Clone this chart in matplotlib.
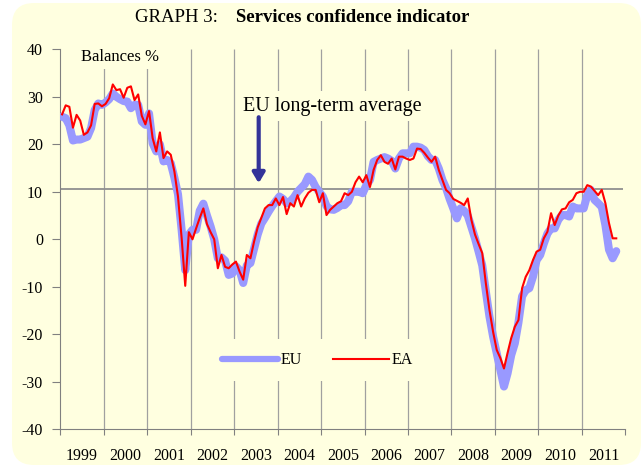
import numpy as np
import matplotlib
matplotlib.use("Agg")
import matplotlib.pyplot as plt
from matplotlib.patches import FancyBboxPatch
from matplotlib.lines import Line2D

plt.rcParams['font.family'] = ['Liberation Serif', 'DejaVu Serif']
plt.rcParams['axes.unicode_minus'] = False

# monthly balances, Jan 1999 - Oct 2011
eu = [25.8, 25.5, 24.0, 20.8, 21.0, 21.0, 21.3, 21.6, 23.4, 27.2, 28.6, 28.3,
      28.8, 29.5, 30.7, 30.0, 29.5, 29.1, 29.0, 27.6, 28.3, 28.3, 24.8, 24.1,
      26.5, 20.2, 18.5, 20.0, 16.4, 16.7, 16.0, 13.0, 9.5, 2.0, -6.5, 1.0,
      2.0, 2.0, 6.0, 7.5, 5.0, 2.7, 0.0, -4.0, -3.8, -4.5, -7.5, -7.2,
      -5.7, -6.5, -9.2, -5.5, -5.0, -2.0, 1.0, 3.3, 4.5, 5.8, 7.0, 8.0,
      9.0, 8.5, 7.6, 8.0, 8.8, 10.0, 10.8, 11.6, 13.2, 12.5, 11.0, 10.0,
      9.0, 7.0, 6.3, 6.2, 6.6, 7.2, 7.2, 8.0, 10.0, 10.0, 10.0, 9.7,
      11.4, 12.5, 16.3, 16.7, 17.0, 17.3, 17.0, 16.5, 14.9, 17.0, 18.1, 18.1,
      18.1, 19.5, 19.5, 19.3, 18.8, 17.5, 16.7, 16.7, 14.9, 12.5, 10.8, 8.5,
      6.5, 4.4, 6.5, 6.0, 5.0, 2.6, 0.2, -2.6, -5.5, -11.0, -16.3, -20.5,
      -24.0, -27.5, -31.0, -28.2, -24.4, -21.9, -17.5, -12.0, -10.7, -10.3, -7.9, -4.4,
      -3.3, -0.9, 1.2, 2.3, 2.3, 4.1, 5.1, 5.1, 4.8, 6.9, 6.5, 6.5,
      6.5, 9.3, 10.4, 8.3, 7.6, 6.8, 3.0, -2.2, -4.0, -2.5]

ea = [26.3, 28.2, 27.9, 23.5, 26.2, 25.0, 22.0, 22.5, 24.0, 28.5, 28.6, 28.0,
      28.5, 29.7, 32.6, 31.4, 31.6, 29.8, 31.9, 32.2, 29.3, 30.5, 26.0, 24.2,
      27.0, 21.3, 18.5, 22.5, 17.1, 18.5, 17.8, 14.3, 9.0, 0.3, -9.8, 1.5,
      0.0, 2.3, 4.5, 6.5, 3.2, 1.5, 0.0, -6.1, -3.3, -5.8, -6.1, -5.3,
      -4.7, -6.8, -8.5, -3.3, -4.0, -0.5, 2.5, 4.5, 6.5, 7.2, 7.2, 8.6,
      7.2, 8.9, 5.3, 7.6, 6.9, 9.3, 6.9, 8.6, 9.8, 10.4, 10.4, 7.8,
      9.7, 5.1, 6.2, 6.9, 7.6, 8.0, 9.7, 9.3, 10.0, 12.0, 13.2, 12.0,
      13.5, 11.0, 14.6, 16.7, 17.7, 16.3, 15.9, 17.0, 14.7, 17.4, 17.4, 17.0,
      16.7, 17.0, 19.1, 19.0, 18.2, 17.2, 16.3, 17.4, 14.6, 12.5, 10.4, 9.7,
      8.5, 8.1, 7.7, 7.2, 8.6, 4.1, 1.0, -1.0, -2.9, -9.3, -14.9, -19.5,
      -23.3, -25.0, -27.2, -23.9, -20.8, -18.4, -17.0, -10.3, -7.9, -6.5, -4.4, -2.6,
      -2.2, 0.2, 1.6, 5.5, 3.0, 5.0, 6.3, 6.5, 7.8, 8.3, 9.7, 10.0,
      10.0, 11.4, 11.1, 10.2, 9.3, 10.4, 7.6, 3.4, 0.2, 0.2]

years = list(range(1999, 2012))
long_term_avg = 10.6

bg = '#FFFFE0'
fig = plt.figure(figsize=(6.42, 4.66), dpi=100)
fig.patch.set_facecolor('white')
fig.add_artist(FancyBboxPatch((0.12, 0.01), 6.29, 4.62,
                              boxstyle='round,pad=0,rounding_size=0.22',
                              transform=fig.dpi_scale_trans,
                              facecolor=bg, edgecolor='none', zorder=0))

ax = fig.add_axes([0.0939, 0.0788, 0.8801, 0.8154])
ax.set_facecolor('none')

t = 1999 + (np.arange(len(ea)) + 0.5) / 12

ax.vlines(years[1:], -40, 40, color='#A0A0A0', lw=0.9, zorder=1)
ax.hlines(long_term_avg, 1999, 2011.95, color='#909090', lw=1.3, zorder=2)

ax.plot(t, eu, color='#9999FF', lw=5.8, solid_joinstyle='round',
        solid_capstyle='round', zorder=3)
ax.plot(t, ea, color='red', lw=1.5, zorder=4)

ax.set_xlim(1999, 2012)
ax.set_ylim(-40, 40)
ax.set_yticks(range(-40, 41, 10))
ax.set_xticks(range(1999, 2013))
ax.set_xticklabels([])
ax.set_xticks([y + 0.5 for y in years], minor=True)
ax.set_xticklabels([str(y) for y in years], minor=True)
ax.tick_params(axis='x', which='major', length=4, color='#808080')
ax.tick_params(axis='x', which='minor', length=0, pad=13.5, labelsize=11.5)
ax.tick_params(axis='y', length=6, color='#808080', pad=6.5, labelsize=11.5)
for s in ['top', 'right']:
    ax.spines[s].set_visible(False)
for s in ['left', 'bottom']:
    ax.spines[s].set_color('#808080')

ax.text(1999.48, 38.4, 'Balances %', fontsize=12, va='center', ha='left',
        bbox=dict(facecolor=bg, edgecolor='none', pad=3), zorder=5)
ax.text(2003.2, 27.1, 'EU long-term average', fontsize=14.5, va='baseline',
        ha='left', bbox=dict(facecolor=bg, edgecolor='none', pad=4), zorder=5)
ax.annotate('', xy=(2003.565, 11.8), xytext=(2003.565, 25.7),
            arrowprops=dict(arrowstyle='-|>,head_width=0.3,head_length=0.5',
                            lw=3, color='#333399', mutation_scale=12,
                            shrinkA=0, shrinkB=0), zorder=5)

handles = [Line2D([], [], color='#9999FF', lw=4.5, solid_capstyle='round'),
           Line2D([], [], color='red', lw=1.5)]
leg = ax.legend(handles, ['EU', 'EA'], ncol=2, loc='center',
                bbox_to_anchor=(0.455, 0.182), frameon=True, fontsize=11.5,
                handlelength=3.5, handletextpad=0.15, columnspacing=2.0,
                borderpad=0.8)
leg.get_frame().set_facecolor(bg)
leg.get_frame().set_edgecolor('none')
leg.get_frame().set_alpha(1)

fig.text(218 / 642, 1 - 18 / 466, 'GRAPH 3:', fontsize=13.5, ha='right',
         va='center')
fig.text(236 / 642, 1 - 18 / 466, 'Services confidence indicator',
         fontsize=13.5, fontweight='bold', ha='left', va='center')

fig.savefig('out.png', dpi=100, facecolor=fig.get_facecolor())
